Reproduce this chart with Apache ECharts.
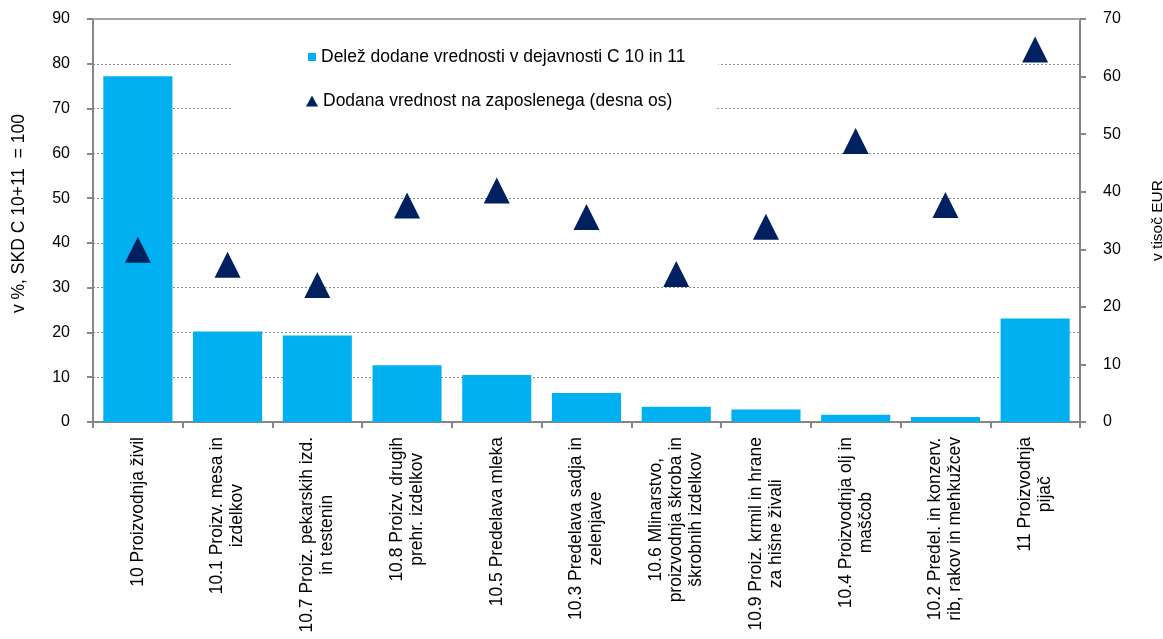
<!DOCTYPE html>
<html>
<head>
<meta charset="utf-8">
<script src="https://cdn.jsdelivr.net/npm/echarts@6/dist/echarts.min.js"></script>
<style>
html,body{margin:0;padding:0;background:#fff;}
#chart{width:1163px;height:639px;}
</style>
</head>
<body>
<div id="chart"></div>
<script>
const categories = [
  "10 Proizvodnja živil",
  "10.1 Proizv. mesa in\nizdelkov",
  "10.7 Proiz. pekarskih izd.\nin testenin",
  "10.8 Proizv. drugih\nprehr. izdelkov",
  "10.5 Predelava mleka",
  "10.3 Predelava sadja in\nzelenjave",
  "10.6 Mlinarstvo,\nproizvodnja škroba in\nškrobnih izdelkov",
  "10.9 Proiz. krmil in hrane\nza hišne živali",
  "10.4 Proizvodnja olj in\nmaščob",
  "10.2 Predel. in konzerv.\nrib, rakov in mehkužcev",
  "11 Proizvodnja\npijač"
];
const shareValues = [77.2, 20.2, 19.3, 12.7, 10.5, 6.5, 3.4, 2.8, 1.6, 1.1, 23.1];
const perEmployeeValues = [29.9, 27.3, 23.8, 37.6, 40.2, 35.6, 25.7, 33.9, 48.8, 37.7, 64.7];
const leftTicks = {min: 0, max: 90, interval: 10};
const rightTicks = {min: 0, max: 70, interval: 10};
const seriesNames = ["Delež dodane vrednosti v dejavnosti C 10 in 11", "Dodana vrednost na zaposlenega (desna os)"];
const axisNames = ["v %, SKD C 10+11  = 100", "v tisoč EUR"];

const FONT = '"Liberation Sans", Arial, sans-serif';
const AXIS_GRAY = '#868686';
const BIG = 17.5;
const chart = echarts.init(document.getElementById('chart'), null, {renderer: 'canvas'});

const legendText = {fontSize: BIG, color: '#000', fontFamily: FONT};

chart.setOption({
  animation: false,
  backgroundColor: '#ffffff',
  textStyle: {fontFamily: FONT},
  grid: {left: 93, right: 83, top: 19, bottom: 217, containLabel: false, outerBoundsMode: 'none'},
  legend: [
    {
      orient: 'vertical',
      left: 231,
      top: 30,
      padding: [18, 33, 5, 77],
      backgroundColor: '#ffffff',
      itemWidth: 8,
      itemHeight: 8,
      textStyle: legendText,
      data: [{name: seriesNames[0], icon: 'rect'}]
    },
    {
      orient: 'vertical',
      left: 231,
      top: 70,
      padding: [22, 45, 20, 75],
      backgroundColor: '#ffffff',
      itemWidth: 12,
      itemHeight: 11,
      textStyle: legendText,
      data: [{name: seriesNames[1], icon: 'triangle'}]
    }
  ],
  xAxis: {
    type: 'category',
    data: categories,
    boundaryGap: true,
    axisLine: {show: true, lineStyle: {color: AXIS_GRAY, width: 2}},
    axisTick: {show: true, alignWithLabel: false, interval: 0, length: 6, lineStyle: {color: AXIS_GRAY, width: 2}},
    axisLabel: {
      interval: 0,
      rotate: 90,
      margin: 15,
      fontSize: BIG,
      color: '#000',
      fontFamily: FONT,
      formatter: function (v) {
        return v.split('\n').map(function (l) { return '{c|' + l + '}'; }).join('\n');
      },
      rich: {c: {align: 'center', fontSize: BIG, lineHeight: 20, color: '#000', fontFamily: FONT}}
    }
  },
  yAxis: [
    {
      type: 'value',
      min: leftTicks.min, max: leftTicks.max, interval: leftTicks.interval,
      name: axisNames[0],
      nameLocation: 'middle',
      nameRotate: 90,
      nameGap: 65,
      nameTextStyle: {fontSize: BIG, color: '#000', fontFamily: FONT, padding: [0, 0, 0, 14]},
      axisLine: {show: true, lineStyle: {color: AXIS_GRAY, width: 2}},
      axisTick: {show: true, inside: false, length: 6, lineStyle: {color: AXIS_GRAY, width: 2}},
      axisLabel: {fontSize: 16, color: '#000', margin: 23, fontFamily: FONT},
      splitLine: {show: true, lineStyle: {color: '#8a8a8a', width: 1, type: [2, 2]}}
    },
    {
      type: 'value',
      position: 'right',
      min: rightTicks.min, max: rightTicks.max, interval: rightTicks.interval,
      name: axisNames[1],
      nameLocation: 'middle',
      nameRotate: 90,
      nameGap: 70,
      nameTextStyle: {fontSize: 15.5, color: '#000', fontFamily: FONT},
      axisLine: {show: true, lineStyle: {color: AXIS_GRAY, width: 2}},
      axisTick: {show: true, inside: false, length: 6, lineStyle: {color: AXIS_GRAY, width: 2}},
      axisLabel: {fontSize: 16, color: '#000', margin: 23, fontFamily: FONT},
      splitLine: {show: false}
    }
  ],
  series: [
    {
      name: seriesNames[0],
      type: 'bar',
      yAxisIndex: 0,
      data: shareValues,
      barCategoryGap: '23%',
      itemStyle: {color: '#00B0F0'},
      markLine: {
        silent: true,
        symbol: 'none',
        label: {show: false},
        lineStyle: {color: '#a6a6a6', width: 2, type: 'solid'},
        data: [{yAxis: leftTicks.max}]
      }
    },
    {
      name: seriesNames[1],
      type: 'scatter',
      yAxisIndex: 1,
      data: perEmployeeValues,
      symbol: 'triangle',
      symbolSize: [26, 26],
      itemStyle: {color: '#002060', opacity: 1},
      emphasis: {disabled: true},
      z: 5
    }
  ]
});
</script>
</body>
</html>
